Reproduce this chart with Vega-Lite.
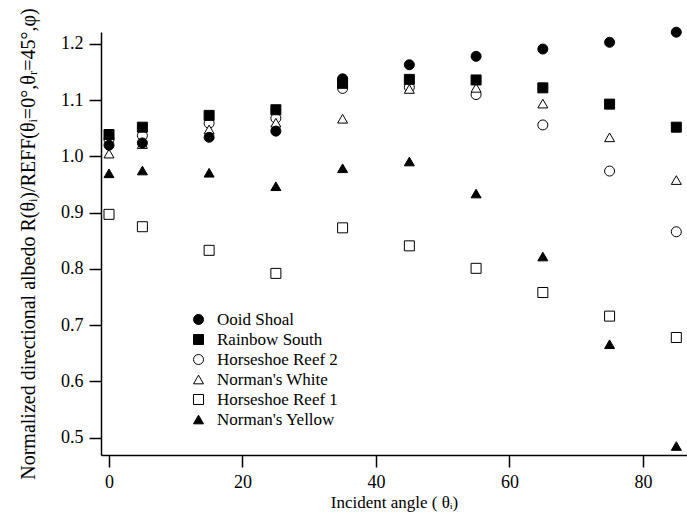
{
  "$schema": "https://vega.github.io/schema/vega-lite/v6.json",
  "width": 586,
  "height": 423,
  "autosize": {"type": "none"},
  "padding": {"left": 101, "top": 32, "right": 0, "bottom": 63},
  "background": "white",
  "config": {
    "view": {"stroke": null},
    "font": "Liberation Serif"
  },
  "data": {
    "values": [
      {"site": "Horseshoe Reef 1", "angle": 0, "value": 0.897},
      {"site": "Horseshoe Reef 1", "angle": 5, "value": 0.875},
      {"site": "Horseshoe Reef 1", "angle": 15, "value": 0.833},
      {"site": "Horseshoe Reef 1", "angle": 25, "value": 0.792},
      {"site": "Horseshoe Reef 1", "angle": 35, "value": 0.873},
      {"site": "Horseshoe Reef 1", "angle": 45, "value": 0.841},
      {"site": "Horseshoe Reef 1", "angle": 55, "value": 0.801},
      {"site": "Horseshoe Reef 1", "angle": 65, "value": 0.758},
      {"site": "Horseshoe Reef 1", "angle": 75, "value": 0.716},
      {"site": "Horseshoe Reef 1", "angle": 85, "value": 0.678},
      {"site": "Horseshoe Reef 2", "angle": 0, "value": 1.03},
      {"site": "Horseshoe Reef 2", "angle": 5, "value": 1.037},
      {"site": "Horseshoe Reef 2", "angle": 15, "value": 1.059},
      {"site": "Horseshoe Reef 2", "angle": 25, "value": 1.068},
      {"site": "Horseshoe Reef 2", "angle": 35, "value": 1.121},
      {"site": "Horseshoe Reef 2", "angle": 45, "value": 1.123},
      {"site": "Horseshoe Reef 2", "angle": 55, "value": 1.110},
      {"site": "Horseshoe Reef 2", "angle": 65, "value": 1.056},
      {"site": "Horseshoe Reef 2", "angle": 75, "value": 0.974},
      {"site": "Horseshoe Reef 2", "angle": 85, "value": 0.866},
      {"site": "Norman's White", "angle": 0, "value": 1.005},
      {"site": "Norman's White", "angle": 5, "value": 1.022},
      {"site": "Norman's White", "angle": 15, "value": 1.048},
      {"site": "Norman's White", "angle": 25, "value": 1.06},
      {"site": "Norman's White", "angle": 35, "value": 1.067},
      {"site": "Norman's White", "angle": 45, "value": 1.120},
      {"site": "Norman's White", "angle": 55, "value": 1.122},
      {"site": "Norman's White", "angle": 65, "value": 1.094},
      {"site": "Norman's White", "angle": 75, "value": 1.034},
      {"site": "Norman's White", "angle": 85, "value": 0.958},
      {"site": "Ooid Shoal", "angle": 0, "value": 1.020},
      {"site": "Ooid Shoal", "angle": 5, "value": 1.024},
      {"site": "Ooid Shoal", "angle": 15, "value": 1.034},
      {"site": "Ooid Shoal", "angle": 25, "value": 1.045},
      {"site": "Ooid Shoal", "angle": 35, "value": 1.138},
      {"site": "Ooid Shoal", "angle": 45, "value": 1.163},
      {"site": "Ooid Shoal", "angle": 55, "value": 1.178},
      {"site": "Ooid Shoal", "angle": 65, "value": 1.191},
      {"site": "Ooid Shoal", "angle": 75, "value": 1.203},
      {"site": "Ooid Shoal", "angle": 85, "value": 1.221},
      {"site": "Rainbow South", "angle": 0, "value": 1.039},
      {"site": "Rainbow South", "angle": 5, "value": 1.052},
      {"site": "Rainbow South", "angle": 15, "value": 1.073},
      {"site": "Rainbow South", "angle": 25, "value": 1.083},
      {"site": "Rainbow South", "angle": 35, "value": 1.130},
      {"site": "Rainbow South", "angle": 45, "value": 1.137},
      {"site": "Rainbow South", "angle": 55, "value": 1.136},
      {"site": "Rainbow South", "angle": 65, "value": 1.122},
      {"site": "Rainbow South", "angle": 75, "value": 1.093},
      {"site": "Rainbow South", "angle": 85, "value": 1.052},
      {"site": "Norman's Yellow", "angle": 0, "value": 0.970},
      {"site": "Norman's Yellow", "angle": 5, "value": 0.975},
      {"site": "Norman's Yellow", "angle": 15, "value": 0.971},
      {"site": "Norman's Yellow", "angle": 25, "value": 0.947},
      {"site": "Norman's Yellow", "angle": 35, "value": 0.979},
      {"site": "Norman's Yellow", "angle": 45, "value": 0.991},
      {"site": "Norman's Yellow", "angle": 55, "value": 0.934},
      {"site": "Norman's Yellow", "angle": 65, "value": 0.822},
      {"site": "Norman's Yellow", "angle": 75, "value": 0.666},
      {"site": "Norman's Yellow", "angle": 85, "value": 0.485}
    ]
  },
  "mark": {"type": "point", "filled": true, "stroke": "black", "strokeWidth": 1, "opacity": 1, "size": 100, "clip": false},
  "encoding": {
    "x": {
      "field": "angle",
      "type": "quantitative",
      "scale": {"domain": [-1.2, 86.6], "nice": false, "zero": false},
      "axis": {
        "title": "Incident angle ( θᵢ)",
        "values": [0, 20, 40, 60, 80],
        "grid": false,
        "domainColor": "black",
        "domainWidth": 1.5,
        "tickColor": "black",
        "tickWidth": 1.5,
        "tickSize": 12,
        "labelFont": "Liberation Serif",
        "labelFontSize": 18,
        "labelColor": "black",
        "labelPadding": 6,
        "titleFont": "Liberation Serif",
        "titleFontSize": 17,
        "titleFontWeight": "normal",
        "titleColor": "black",
        "titlePadding": 3
      }
    },
    "y": {
      "field": "value",
      "type": "quantitative",
      "scale": {"domain": [0.469, 1.2213], "nice": false, "zero": false},
      "axis": {
        "title": "Normalized directional albedo R(θᵢ)/REFF(θᵢ=0°,θᵣ=45°,φ)",
        "values": [0.5, 0.6, 0.7, 0.8, 0.9, 1.0, 1.1, 1.2],
        "format": ".1f",
        "grid": false,
        "domainColor": "black",
        "domainWidth": 1.5,
        "tickColor": "black",
        "tickWidth": 1.5,
        "tickSize": 12,
        "labelFont": "Liberation Serif",
        "labelFontSize": 18,
        "labelColor": "black",
        "labelPadding": 6,
        "titleFont": "Liberation Serif",
        "titleFontSize": 20,
        "titleFontWeight": "normal",
        "titleColor": "black",
        "titlePadding": 22
      }
    },
    "shape": {
      "field": "site",
      "type": "nominal",
      "scale": {
        "domain": ["Ooid Shoal", "Rainbow South", "Horseshoe Reef 2", "Norman's White", "Horseshoe Reef 1", "Norman's Yellow"],
        "range": ["circle", "square", "circle", "triangle-up", "square", "triangle-up"]
      },
      "legend": {
        "title": null,
        "orient": "none",
        "legendX": 89,
        "legendY": 279,
        "padding": 0,
        "labelFont": "Liberation Serif",
        "labelFontSize": 17,
        "labelColor": "black",
        "labelOffset": 10,
        "rowPadding": 2,
        "symbolSize": 100,
        "symbolStrokeColor": "black",
        "symbolStrokeWidth": 1,
        "symbolOpacity": 1,
        "encode": {
          "symbols": {"update": {"stroke": {"value": "black"}, "strokeWidth": {"value": 1}, "opacity": {"value": 1}}},
          "labels": {"update": {"font": {"value": "Liberation Serif"}}}
        }
      }
    },
    "fill": {
      "field": "site",
      "type": "nominal",
      "scale": {
        "domain": ["Ooid Shoal", "Rainbow South", "Horseshoe Reef 2", "Norman's White", "Horseshoe Reef 1", "Norman's Yellow"],
        "range": ["black", "black", "white", "white", "white", "black"]
      },
      "legend": {
        "title": null,
        "orient": "none",
        "legendX": 89,
        "legendY": 279,
        "padding": 0,
        "labelFont": "Liberation Serif",
        "labelFontSize": 17,
        "labelColor": "black",
        "labelOffset": 10,
        "rowPadding": 2,
        "symbolSize": 100,
        "symbolStrokeColor": "black",
        "symbolStrokeWidth": 1,
        "symbolOpacity": 1,
        "encode": {
          "symbols": {"update": {"stroke": {"value": "black"}, "strokeWidth": {"value": 1}, "opacity": {"value": 1}}},
          "labels": {"update": {"font": {"value": "Liberation Serif"}}}
        }
      }
    }
  }
}
